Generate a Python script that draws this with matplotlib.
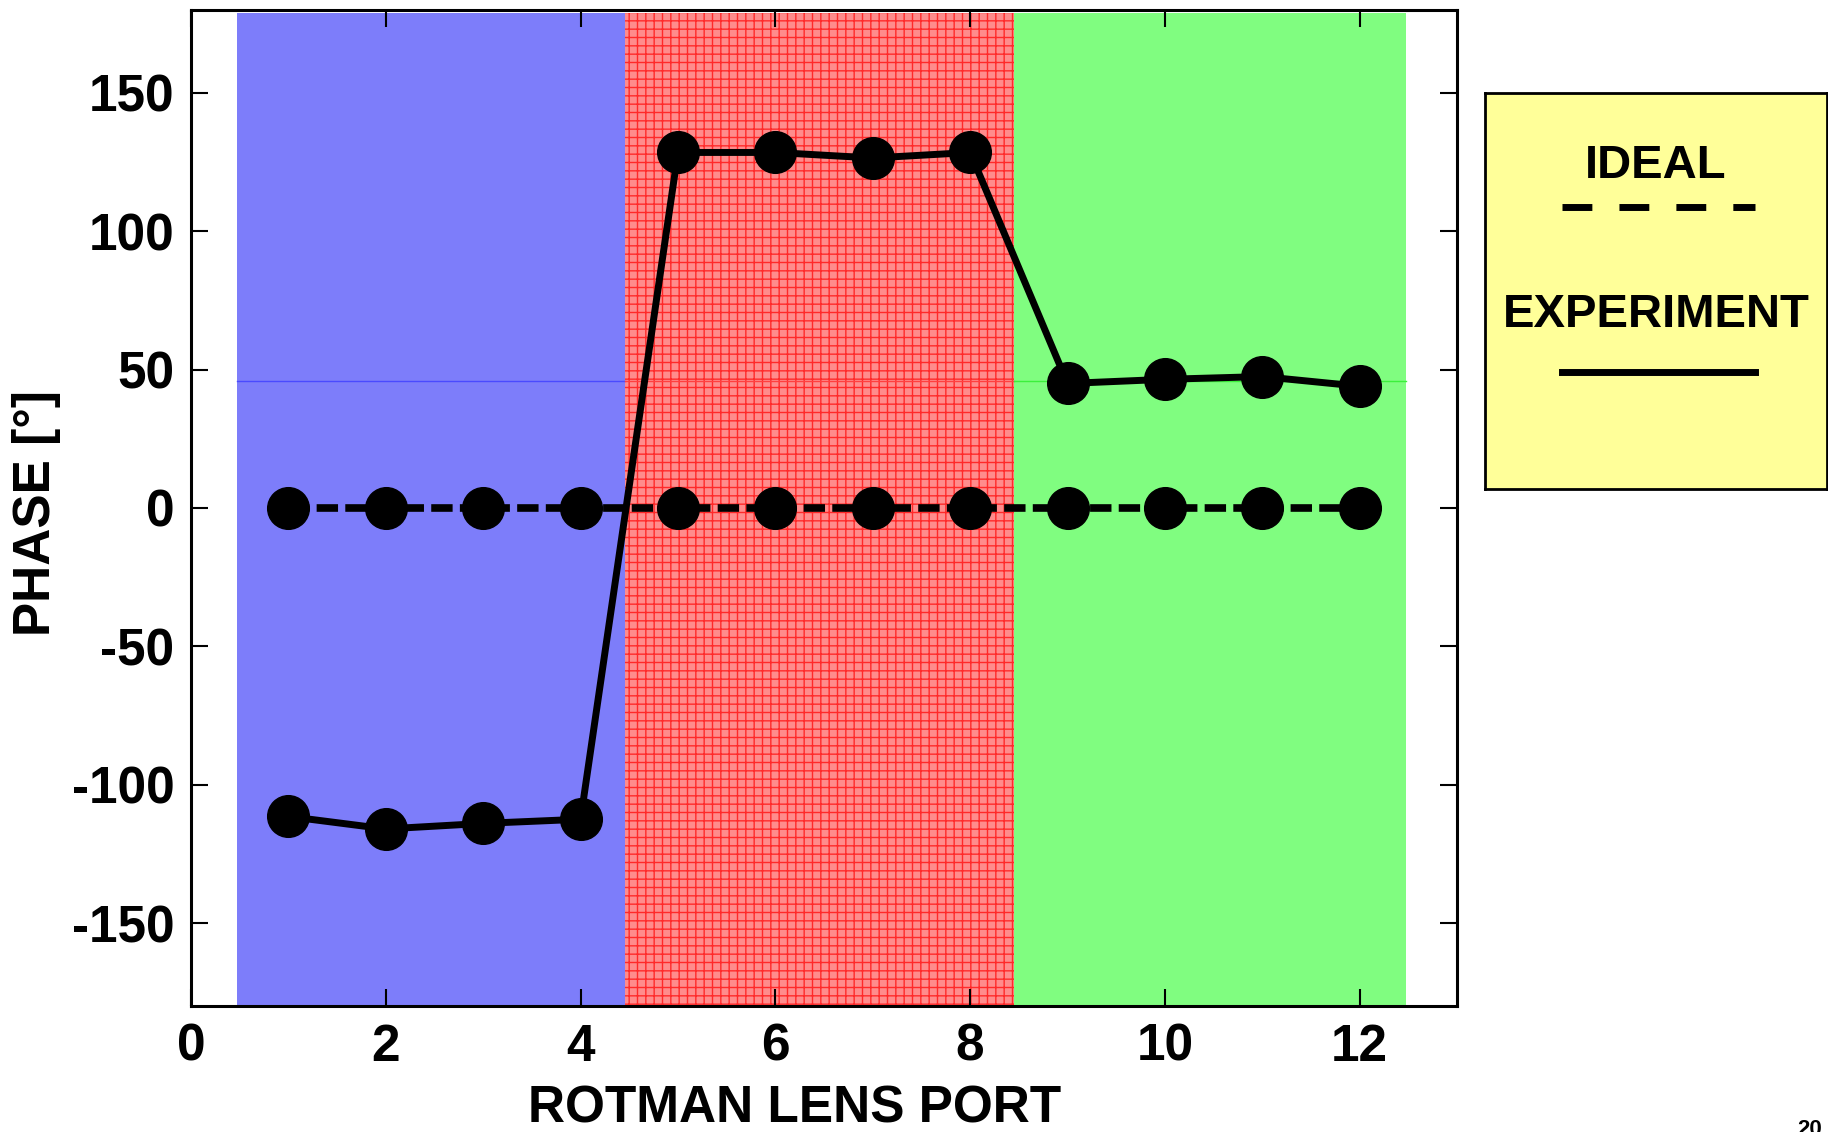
import matplotlib
matplotlib.use("Agg")
import matplotlib.pyplot as plt

# data
ports = [1, 2, 3, 4, 5, 6, 7, 8, 9, 10, 11, 12]
ideal = [0, 0, 0, 0, 0, 0, 0, 0, 0, 0, 0, 0]
experiment = [-111.5, -116, -114, -112.5, 128.5, 128.5, 126.5, 128.5, 45, 46.5, 47.5, 44]
band_edges = [0.47, 4.46, 8.45, 12.48]
band_colors = ["#7d7dfa", "#ff8c8c", "#80fd80"]
band_lines = ["#4a4aff", "#ff4040", "#3cf03c"]
band_level = 46
xticks = [0, 2, 4, 6, 8, 10, 12]
yticks = [-150, -100, -50, 0, 50, 100, 150]

plt.rcParams["font.family"] = ["Liberation Sans", "DejaVu Sans"]
plt.rcParams["font.weight"] = "bold"
plt.rcParams["hatch.linewidth"] = 1.0
plt.rcParams["axes.unicode_minus"] = False

fig = plt.figure(figsize=(18.28, 11.32), dpi=100)
ax = fig.add_axes([0.1045, 0.1113, 0.6926, 0.8799])

for i, col in enumerate(band_colors):
    x0, x1 = band_edges[i], band_edges[i + 1]
    if i == 1:
        ax.axvspan(x0, x1, ymin=0, ymax=0.997, facecolor=col,
                   edgecolor="#ff2a2a", hatch="++", linewidth=0, zorder=0)
    else:
        ax.axvspan(x0, x1, ymin=0, ymax=0.997, facecolor=col,
                   linewidth=0, zorder=0)
    ax.plot([x0, x1], [band_level, band_level], color=band_lines[i],
            lw=1.0, zorder=0.5)

ax.plot(ports, ideal, color="black", lw=5.5, dashes=(2.8, 0.95),
        marker="o", ms=30, zorder=3)
ax.plot(ports, experiment, color="black", lw=5, marker="o", ms=30, zorder=3)

ax.set_xlim(0, 13)
ax.set_ylim(-180, 180)
ax.set_xticks(xticks)
ax.set_yticks(yticks)
ax.tick_params(direction="in", length=12, width=1.5, labelsize=37,
               top=True, right=True, pad=12)
for s in ax.spines.values():
    s.set_linewidth(2.2)

ax.set_xlabel("ROTMAN LENS PORT", fontsize=37, fontweight="bold")
ax.set_ylabel("PHASE [°]", fontsize=37, fontweight="bold")
ax.xaxis.set_label_coords(0.477, -0.079)
ax.yaxis.set_label_coords(-0.103, 0.495)

# legend box drawn by hand
lax = fig.add_axes([0.8124, 0.568, 0.187, 0.35])
lax.set_facecolor("#ffff99")
lax.set_xlim(0, 1)
lax.set_ylim(0, 1)
lax.set_xticks([])
lax.set_yticks([])
for s in lax.spines.values():
    s.set_linewidth(2)
lax.text(0.5, 0.815, "IDEAL", ha="center", va="center", fontsize=34,
         fontweight="bold")
lax.plot([0.225, 0.79], [0.712, 0.712], color="black", lw=5,
         dashes=(4.3, 3.9))
lax.text(0.5, 0.44, "EXPERIMENT", ha="center", va="center", fontsize=34,
         fontweight="bold")
lax.plot([0.225, 0.79], [0.295, 0.295], color="black", lw=5)

fig.text(0.990, 0.0115, "20", ha="center", va="top", fontsize=16,
         fontweight="bold")

fig.savefig("out.png", dpi=100)
